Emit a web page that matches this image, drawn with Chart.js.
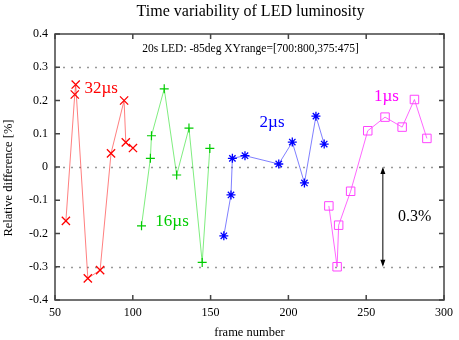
<!DOCTYPE html>
<html>
<head>
<meta charset="utf-8">
<script src="https://cdn.jsdelivr.net/npm/chart.js@4"></script>
<style>
  body { margin: 0; background: #fff; }
</style>
</head>
<body>
<canvas id="lumChart" width="459" height="340"></canvas>
<script>
// frame numbers and relative differences (%)
const red32X = [57.0, 62.7, 63.3, 71.1, 79.0, 86.0, 94.4, 95.5, 100.1];
const red32Y = [-0.162, 0.218, 0.248, -0.335, -0.31, 0.041, 0.200, 0.074, 0.057];

const green16X = [105.6, 111.3, 112.0, 120.2, 128.2, 136.1, 144.6, 149.5];
const green16Y = [-0.177, 0.026, 0.094, 0.235, -0.024, 0.117, -0.287, 0.056];

const blue2X = [158.5, 163.1, 164.0, 172.1, 193.8, 202.5, 210.3, 217.7, 223.0];
const blue2Y = [-0.207, -0.084, 0.026, 0.034, 0.009, 0.075, -0.048, 0.153, 0.069];

const mag1X = [226.0, 231.3, 232.3, 240.0, 251.0, 262.1, 273.1, 281.0, 289.0];
const mag1Y = [-0.117, -0.300, -0.175, -0.073, 0.109, 0.150, 0.120, 0.203, 0.086];

const xTicks = [50, 100, 150, 200, 250, 300];
const yTicks = [-0.4, -0.3, -0.2, -0.1, 0, 0.1, 0.2, 0.3, 0.4];
const dottedLevels = [0.3, 0, -0.3];

const serif = '"Liberation Serif", "Times New Roman", serif';
Chart.defaults.font.family = serif;
Chart.defaults.color = '#000';

function pts(xs, ys) {
    return xs.map((x, i) => ({ x: x, y: ys[i] }));
}

// text labels placed in data units
const notes = [
    { text: '32\u00b5s', x: 69, y: 0.235, color: '#ff0000', size: 17 },
    { text: '16\u00b5s', x: 114.5, y: -0.163, color: '#00cc00', size: 17 },
    { text: '2\u00b5s', x: 181.5, y: 0.135, color: '#0000ff', size: 17 },
    { text: '1\u00b5s', x: 255, y: 0.212, color: '#ff00ff', size: 17 },
    { text: '0.3%', x: 270.5, y: -0.15, color: '#000', size: 16 }
];

const framePlugin = {
    id: 'framePlugin',
    beforeDatasetsDraw(chart) {
        const { ctx, chartArea: a, scales: { y } } = chart;
        ctx.save();
        ctx.strokeStyle = '#999';
        ctx.lineWidth = 1.5;
        ctx.setLineDash([2, 6]);
        dottedLevels.forEach(v => {
            const py = Math.round(y.getPixelForValue(v)) + 0.5;
            ctx.beginPath();
            ctx.moveTo(a.left, py);
            ctx.lineTo(a.right, py);
            ctx.stroke();
        });
        ctx.restore();
    },
    afterDatasetsDraw(chart) {
        const { ctx, chartArea: a, scales: { x, y } } = chart;
        ctx.save();
        ctx.strokeStyle = '#444';
        ctx.lineWidth = 1.5;
        ctx.strokeRect(a.left, a.top, a.right - a.left, a.bottom - a.top);
        ctx.beginPath();
        xTicks.forEach(v => {
            const px = x.getPixelForValue(v);
            ctx.moveTo(px, a.bottom); ctx.lineTo(px, a.bottom - 5);
            ctx.moveTo(px, a.top); ctx.lineTo(px, a.top + 5);
        });
        yTicks.forEach(v => {
            const py = y.getPixelForValue(v);
            ctx.moveTo(a.left, py); ctx.lineTo(a.left + 5, py);
            ctx.moveTo(a.right, py); ctx.lineTo(a.right - 5, py);
        });
        ctx.stroke();

        // 0.3% double arrow
        const ax = x.getPixelForValue(260.7);
        const y0 = y.getPixelForValue(0);
        const y1 = y.getPixelForValue(-0.3);
        ctx.strokeStyle = '#000';
        ctx.fillStyle = '#000';
        ctx.lineWidth = 1;
        ctx.beginPath();
        ctx.moveTo(ax, y0 + 2); ctx.lineTo(ax, y1 - 2);
        ctx.stroke();
        ctx.beginPath();
        ctx.moveTo(ax, y0); ctx.lineTo(ax - 2.5, y0 + 7); ctx.lineTo(ax + 2.5, y0 + 7); ctx.closePath();
        ctx.moveTo(ax, y1); ctx.lineTo(ax - 2.5, y1 - 7); ctx.lineTo(ax + 2.5, y1 - 7); ctx.closePath();
        ctx.fill();
        ctx.restore();
    },
    afterDraw(chart) {
        const { ctx, chartArea: a, scales: { x, y } } = chart;
        ctx.save();
        ctx.textBaseline = 'middle';
        notes.forEach(n => {
            ctx.font = n.size + 'px ' + serif;
            ctx.fillStyle = n.color;
            ctx.textAlign = 'left';
            ctx.fillText(n.text, x.getPixelForValue(n.x), y.getPixelForValue(n.y));
        });
        ctx.fillStyle = '#000';
        ctx.textAlign = 'center';
        ctx.font = '16px ' + serif;
        ctx.fillText('Time variability of LED luminosity', (a.left + a.right) / 2 + 1, 12);
        ctx.font = '11.5px ' + serif;
        ctx.fillText('20s LED: -85deg XYrange=[700:800,375:475]', (a.left + a.right) / 2 + 1, 49);
        // y axis title
        ctx.font = '12.5px ' + serif;
        ctx.translate(9, 178);
        ctx.rotate(-Math.PI / 2);
        ctx.fillText('Relative difference [%]', 0, 0);
        ctx.restore();
    }
};

new Chart(document.getElementById('lumChart'), {
    type: 'scatter',
    data: {
        datasets: [
            {
                label: '32us', data: pts(red32X, red32Y), showLine: true,
                borderColor: 'rgba(255,0,0,0.5)', borderWidth: 1,
                pointStyle: 'crossRot', pointRadius: 5.8, pointBorderWidth: 1.3,
                pointBorderColor: '#ff0000', pointBackgroundColor: '#ff0000'
            },
            {
                label: '16us', data: pts(green16X, green16Y), showLine: true,
                borderColor: 'rgba(0,220,0,0.5)', borderWidth: 1,
                pointStyle: 'cross', pointRadius: 4.5, pointBorderWidth: 1.2,
                pointBorderColor: '#00cc00', pointBackgroundColor: '#00cc00'
            },
            {
                label: '2us', data: pts(blue2X, blue2Y), showLine: true,
                borderColor: 'rgba(0,0,255,0.5)', borderWidth: 1,
                pointStyle: 'star', pointRadius: 4.5, pointBorderWidth: 1.3,
                pointBorderColor: '#0000ff', pointBackgroundColor: '#0000ff'
            },
            {
                label: '1us', data: pts(mag1X, mag1Y), showLine: true,
                borderColor: 'rgba(255,0,255,0.6)', borderWidth: 1,
                pointStyle: 'rect', pointRadius: 6, pointBorderWidth: 1,
                pointBorderColor: '#ff44ff', pointBackgroundColor: 'rgba(0,0,0,0)'
            }
        ]
    },
    options: {
        responsive: false,
        animation: false,
        layout: { padding: { left: 0, right: 11, top: 34, bottom: 0 } },
        plugins: {
            legend: { display: false },
            tooltip: { enabled: false },
            title: { display: false }
        },
        scales: {
            x: {
                type: 'linear', min: 50, max: 300,
                afterFit: s => { s.height = 40; },
                afterBuildTicks: s => { s.ticks = xTicks.map(v => ({ value: v })); },
                grid: { display: false, drawTicks: false },
                border: { display: false },
                ticks: { padding: 6, font: { size: 12 }, color: '#000', maxRotation: 0 },
                title: { display: true, text: 'frame number', font: { size: 12.5 }, color: '#000', padding: { top: 1, bottom: 0 } }
            },
            y: {
                type: 'linear', min: -0.4, max: 0.4,
                afterFit: s => { s.width = 55; },
                afterBuildTicks: s => { s.ticks = yTicks.map(v => ({ value: v })); },
                grid: { display: false, drawTicks: false },
                border: { display: false },
                ticks: {
                    padding: 7, font: { size: 12 }, color: '#000',
                    callback: v => String(Math.round(v * 10) / 10)
                },
                title: { display: false }
            }
        }
    },
    plugins: [framePlugin]
});
</script>
</body>
</html>
